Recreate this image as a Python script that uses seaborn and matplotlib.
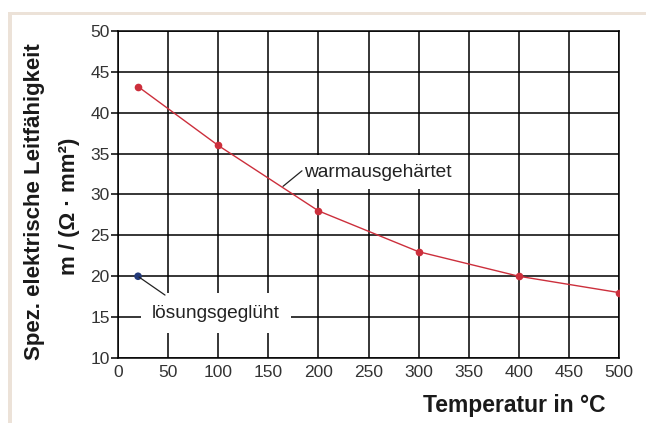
import matplotlib
matplotlib.use("Agg")
import matplotlib.pyplot as plt
import seaborn as sns
import pandas as pd
from matplotlib.patches import Rectangle

# data
temp_warm = [20, 100, 200, 300, 400, 500]
leit_warm = [43.2, 36.0, 28.0, 23.0, 20.0, 18.0]
temp_loes = [20]
leit_loes = [20.0]
x_ticks = [0, 50, 100, 150, 200, 250, 300, 350, 400, 450, 500]
y_ticks = [10, 15, 20, 25, 30, 35, 40, 45, 50]

sns.set_style("white")
plt.rcParams['font.family'] = ['Liberation Sans', 'DejaVu Sans']

fig = plt.figure(figsize=(6.46, 4.23), dpi=100)
fig.patch.set_facecolor("white")
beige = "#ece2d8"
fig.patches.append(Rectangle((8/646, 0.0), 4/646, 1 - 12/423, transform=fig.transFigure,
                             facecolor=beige, edgecolor="none", zorder=0))
fig.patches.append(Rectangle((8/646, 1 - 15/423), 1 - 8/646, 3/423, transform=fig.transFigure,
                             facecolor=beige, edgecolor="none", zorder=0))

ax = fig.add_axes([118/646, 1 - 358/423, (619 - 118)/646, (358 - 31)/423])
ax.set_facecolor("white")

df_w = pd.DataFrame({"T": temp_warm, "L": leit_warm})
df_l = pd.DataFrame({"T": temp_loes, "L": leit_loes})
sns.lineplot(data=df_w, x="T", y="L", ax=ax, color="#cc2f3c", lw=1.0,
             marker="o", markersize=5.5, markeredgecolor="none", zorder=5)
sns.scatterplot(data=df_l, x="T", y="L", ax=ax, color="#233a7a", s=30,
                edgecolor="none", zorder=5)

ax.set_xlim(0, 500)
ax.set_ylim(10, 50)
ax.set_xticks(x_ticks)
ax.set_yticks(y_ticks)
ax.set_xticklabels([str(v) for v in x_ticks])
ax.set_yticklabels([str(v) for v in y_ticks])
ax.grid(True, color="black", lw=1.1, zorder=1)
ax.set_axisbelow(True)
for s in ax.spines.values():
    s.set_color("black")
    s.set_linewidth(1.1)
ax.tick_params(axis="y", direction="out", length=5, width=1.1, pad=1,
               labelsize=12.5, colors="black", labelcolor="#333333", left=True)
ax.tick_params(axis="x", length=0, pad=5, labelsize=12.5, labelcolor="#333333")
ax.set_xlabel("")
ax.set_ylabel("")

# annotations
ax.text(186, 32.75, "warmausgehärtet", fontsize=13.8, color="#222222", va="center", ha="left",
        zorder=4, bbox=dict(facecolor="white", edgecolor="none", pad=6))
ax.plot([164.7, 183.6], [31.0, 32.9], color="#222222", lw=0.9, zorder=6)
ax.text(34, 15.5, "lösungsgeglüht", fontsize=13.8, color="#222222", va="center", ha="left",
        zorder=4, bbox=dict(facecolor="white", edgecolor="none", pad=8))
ax.plot([21, 46.9], [19.9, 17.7], color="#222222", lw=0.9, zorder=6)

fig.text(35/646, 1 - 201.5/423, "Spez. elektrische Leitfähigkeit", rotation=90,
         fontsize=16, fontweight="bold", ha="center", va="center", color="#1a1a1a")
fig.text(70/646, 1 - 206.5/423, "m / (Ω · mm²)", rotation=90,
         fontsize=16, fontweight="bold", ha="center", va="center", color="#1a1a1a")
fig.text(514.5/646, 1 - 405/423, "Temperatur in °C", fontsize=16.5, fontweight="bold",
         ha="center", va="center", color="#1a1a1a")

fig.savefig("out.png", dpi=100, facecolor="white")
